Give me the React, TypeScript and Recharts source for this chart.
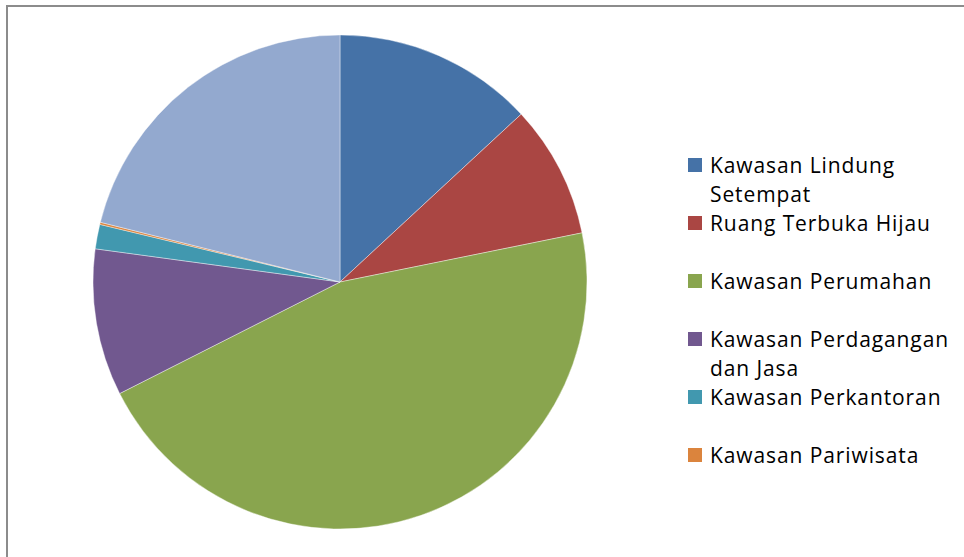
import { PieChart, Pie, Cell, Legend } from "recharts"

const categories = [
  "Kawasan Lindung Setempat",
  "Ruang Terbuka Hijau",
  "Kawasan Perumahan",
  "Kawasan Perdagangan dan Jasa",
  "Kawasan Perkantoran",
  "Kawasan Pariwisata",
  "Lainnya",
]
const shares = [13.1, 8.7, 45.7, 9.6, 1.6, 0.14, 21.1]
const colors = ["#4572A7", "#AA4643", "#89A54E", "#71588F", "#4198AF", "#DB843D", "#93A9CF"]
// legend wraps like the original; only the first six entries are listed
const legendLines = [
  ["Kawasan Lindung", "Setempat"],
  ["Ruang Terbuka Hijau"],
  ["Kawasan Perumahan"],
  ["Kawasan Perdagangan", "dan Jasa"],
  ["Kawasan Perkantoran"],
  ["Kawasan Pariwisata"],
]

const data = categories.map((name, i) => ({ name, value: shares[i] }))

function LegendBox() {
  return (
    <div
      style={{
        position: "relative",
        fontFamily: "'Open Sans', sans-serif",
        fontSize: 21,
        letterSpacing: 0.9,
        color: "#000",
      }}
    >
      {legendLines.map((lines, i) => (
        <div key={i} style={{ position: "absolute", left: 0, top: i * 58, display: "flex" }}>
          <span
            style={{
              width: 14,
              height: 14,
              background: colors[i],
              marginTop: 8,
              marginRight: 8,
              flexShrink: 0,
            }}
          />
          <div style={{ marginTop: 1 }}>
            {lines.map((t) => (
              <div key={t} style={{ height: 29, lineHeight: "29px", whiteSpace: "nowrap" }}>
                {t}
              </div>
            ))}
          </div>
        </div>
      ))}
    </div>
  )
}

export default function App() {
  return (
    <div style={{ position: "absolute", left: 0, top: 0, width: 964, height: 557, background: "#fff" }}>
      <div
        style={{
          position: "absolute",
          left: 6,
          top: 5,
          width: 970,
          height: 560,
          borderTop: "2px solid #8c8c8c",
          borderLeft: "2px solid #8c8c8c",
        }}
      />
      <div style={{ position: "absolute", left: 0, top: 0 }}>
        <PieChart width={964} height={557}>
          <Pie
            data={data}
            dataKey="value"
            nameKey="name"
            cx={335}
            cy={277}
            outerRadius={247}
            startAngle={90}
            endAngle={-270}
            stroke="#ffffff"
            strokeWidth={0.4}
            isAnimationActive={false}
          >
            {data.map((d, i) => (
              <Cell key={d.name} fill={colors[i]} />
            ))}
          </Pie>
          <Legend
            content={() => <LegendBox />}
            wrapperStyle={{ position: "absolute", left: 688, top: 150, width: 276, height: 340 }}
          />
        </PieChart>
      </div>
    </div>
  )
}
